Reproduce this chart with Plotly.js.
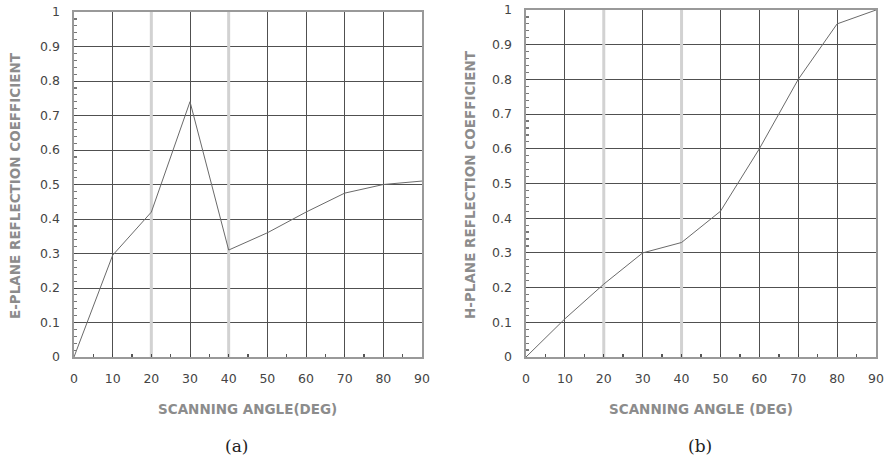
<!DOCTYPE html>
<html>
<head>
<meta charset="utf-8">
<script src="https://cdn.plot.ly/plotly-3.0.1.min.js"></script>
<style>html,body{margin:0;padding:0;background:#fff;}#chart{width:890px;height:465px;}</style>
</head>
<body>
<div id="chart"></div>
<script>
// Data
var scanAngle = [0, 10, 20, 30, 40, 50, 60, 70, 80, 90];
var ePlaneCoef = [0.0, 0.295, 0.42, 0.74, 0.31, 0.36, 0.42, 0.475, 0.50, 0.51];
var hPlaneCoef = [0.0, 0.11, 0.21, 0.30, 0.33, 0.42, 0.60, 0.80, 0.96, 1.0];
var highlightedAngles = [20, 40];
var eTitle = 'E-PLANE REFLECTION COEFFICIENT';
var hTitle = 'H-PLANE REFLECTION COEFFICIENT';
var xTitleA = 'SCANNING ANGLE(DEG)';
var xTitleB = 'SCANNING ANGLE (DEG)';
var captions = ['(a)', '(b)'];

var W = 890, H = 465;
function px(x) { return x / W; }
function py(y) { return 1 - y / H; }

var lineStyle = {color: '#6a6a6a', width: 1};
var traces = [
  {x: scanAngle, y: ePlaneCoef, type: 'scatter', mode: 'lines', line: lineStyle, xaxis: 'x', yaxis: 'y'},
  {x: scanAngle, y: hPlaneCoef, type: 'scatter', mode: 'lines', line: lineStyle, xaxis: 'x2', yaxis: 'y2'}
];

var tickFont = {family: 'DejaVu Sans, Liberation Sans, sans-serif', size: 12.5, color: '#444'};
function xAxis(domain, anchor) {
  return {
    domain: domain, anchor: anchor, range: [0, 90], fixedrange: true,
    tickmode: 'linear', tick0: 0, dtick: 10, ticks: 'inside', ticklen: 3, tickcolor: '#444',
    showgrid: true, gridcolor: '#505050', gridwidth: 1,
    zeroline: false, showline: true, mirror: true, linecolor: '#999', linewidth: 1.6,
    tickfont: tickFont, ticklabelstandoff: 9,
    minor: {tickmode: 'linear', tick0: 0, dtick: 5, ticks: 'inside', ticklen: 3, tickcolor: '#555', tickwidth: 1.5, showgrid: false}
  };
}
function yAxis(domain, anchor) {
  return {
    domain: domain, anchor: anchor, range: [0, 1], fixedrange: true,
    tickmode: 'linear', tick0: 0, dtick: 0.1, ticks: 'inside', ticklen: 3, tickcolor: '#444',
    showgrid: true, gridcolor: '#505050', gridwidth: 1,
    zeroline: false, showline: true, mirror: true, linecolor: '#999', linewidth: 1.6,
    tickfont: tickFont, ticklabelstandoff: 10,
    minor: {tickmode: 'linear', tick0: 0, dtick: 0.02, ticks: 'inside', ticklen: 3, tickcolor: '#777', tickwidth: 1.2, showgrid: false}
  };
}

var shapes = [];
highlightedAngles.forEach(function (a) {
  ['x', 'x2'].forEach(function (xr, i) {
    shapes.push({type: 'line', layer: 'between', xref: xr, yref: i === 0 ? 'y' : 'y2',
      x0: a, x1: a, y0: 0, y1: 1, line: {color: '#d2d2d2', width: 3}});
  });
});

var titleFont = {family: 'DejaVu Sans, Liberation Sans, sans-serif', size: 13.5, color: '#8c8c8c', weight: 'bold'};
var capFont = {family: 'DejaVu Serif, Liberation Serif, serif', size: 17, color: '#222'};
var annotations = [
  {text: eTitle, xref: 'paper', yref: 'paper', x: px(15), y: py(186), textangle: -90, showarrow: false, font: titleFont, xanchor: 'center', yanchor: 'middle'},
  {text: hTitle, xref: 'paper', yref: 'paper', x: px(470), y: py(184), textangle: -90, showarrow: false, font: titleFont, xanchor: 'center', yanchor: 'middle'},
  {text: xTitleA, xref: 'paper', yref: 'paper', x: px(247), y: py(409), showarrow: false, font: titleFont, xanchor: 'center', yanchor: 'middle'},
  {text: xTitleB, xref: 'paper', yref: 'paper', x: px(701), y: py(409), showarrow: false, font: titleFont, xanchor: 'center', yanchor: 'middle'},
  {text: captions[0], xref: 'paper', yref: 'paper', x: px(236), y: py(446), showarrow: false, font: capFont, xanchor: 'center', yanchor: 'middle'},
  {text: captions[1], xref: 'paper', yref: 'paper', x: px(700), y: py(446), showarrow: false, font: capFont, xanchor: 'center', yanchor: 'middle'}
];

var layout = {
  width: W, height: H,
  margin: {l: 0, r: 0, t: 0, b: 0},
  paper_bgcolor: '#ffffff', plot_bgcolor: '#ffffff',
  showlegend: false,
  xaxis: xAxis([px(74), px(422)], 'y'),
  yaxis: yAxis([py(357), py(12)], 'x'),
  xaxis2: xAxis([px(526), px(876)], 'y2'),
  yaxis2: yAxis([py(357), py(10)], 'x2'),
  shapes: shapes,
  annotations: annotations
};

Plotly.newPlot('chart', traces, layout, {displayModeBar: false, staticPlot: true});
</script>
</body>
</html>
